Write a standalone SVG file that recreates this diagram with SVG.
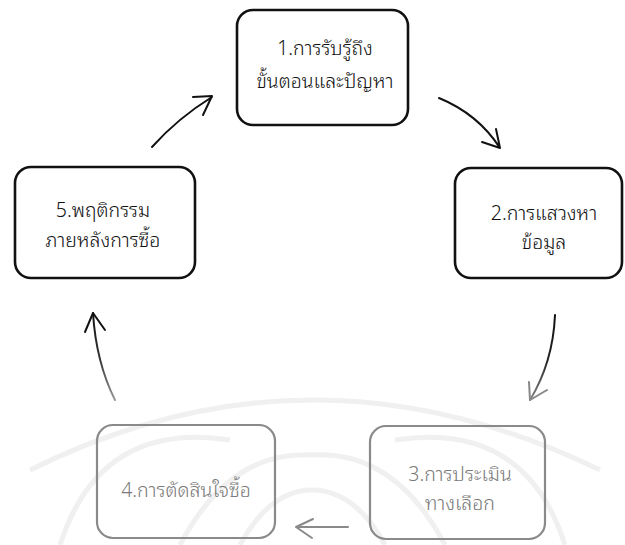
<svg xmlns="http://www.w3.org/2000/svg" width="625" height="545" viewBox="0 0 625 545">
<defs>
<style>
.box{fill:none;stroke:#111;stroke-width:2.6}
.gbox{fill:none;stroke:#8a8a8a;stroke-width:2.2}
.t{font-family:"Noto Sans Thai Looped","Noto Sans Thai","Noto Sans",sans-serif;font-size:19.5px;font-weight:350;fill:#111;text-anchor:middle}
.gt{font-family:"Noto Sans Thai Looped","Noto Sans Thai","Noto Sans",sans-serif;font-size:19.5px;font-weight:350;fill:#7a7a7a;text-anchor:middle}
.ar{fill:none;stroke:#111;stroke-width:2;stroke-linecap:round;stroke-linejoin:round}
.wm{fill:none;stroke:#f0f0f0;stroke-width:5}
</style>
<linearGradient id="g23" gradientUnits="userSpaceOnUse" x1="555" y1="315" x2="530" y2="400">
<stop offset="0" stop-color="#111"/><stop offset="0.5" stop-color="#222"/><stop offset="1" stop-color="#888"/>
</linearGradient>
<linearGradient id="g45" gradientUnits="userSpaceOnUse" x1="115" y1="400" x2="93" y2="313">
<stop offset="0" stop-color="#999"/><stop offset="0.5" stop-color="#333"/><stop offset="1" stop-color="#111"/>
</linearGradient>
</defs>
<rect width="625" height="545" fill="#fff"/>
<g id="watermark">
<path class="wm" d="M30,470 Q312,330 600,470"/>
<path class="wm" d="M60,545 Q100,420 230,440"/>
<path class="wm" d="M565,545 Q525,420 395,440"/>
<path class="wm" d="M180,545 Q230,450 312,455 Q395,450 445,545"/>
<path class="wm" d="M240,545 Q270,490 312,490 Q355,490 385,545"/>
</g>
<g id="connectors">
<path class="ar" d="M152,147 Q178,118 212,97 M193,97 L212,96 L203,115"/>
<path class="ar" d="M439,98 Q478,114 500,148 M482,142 L500,148 L496,129"/>
<path class="ar" style="stroke:url(#g23)" d="M555,315 Q553,362 530,400"/>
<path class="ar" style="stroke:#888" d="M529,382 L530,400 L547,390"/>
<path class="ar" style="stroke:#8a8a8a" d="M348,527 L296,527 M313,519 L296,527 L312,538"/>
<path class="ar" style="stroke:url(#g45)" d="M115,400 Q96,362 93,313"/>
<path class="ar" d="M85,332 L93,313 L105,330"/>
</g>
<g id="node1">
<rect class="box" x="237" y="10" width="171" height="115" rx="16"/>
<text class="t" x="325" y="55">1.การรับรู้ถึง</text>
<text class="t" x="325" y="88">ขั้นตอนและปัญหา</text>
</g>
<g id="node2">
<rect class="box" x="455" y="168" width="167" height="110" rx="16"/>
<text class="t" x="544" y="220">2.การแสวงหา</text>
<text class="t" x="544" y="249">ข้อมูล</text>
</g>
<g id="node3">
<rect class="gbox" x="370" y="426" width="175" height="113" rx="16"/>
<text class="gt" x="460" y="481">3.การประเมิน</text>
<text class="gt" x="460" y="510">ทางเลือก</text>
</g>
<g id="node4">
<rect class="gbox" x="97" y="425" width="178" height="113" rx="16"/>
<text class="gt" x="186" y="497">4.การตัดสินใจซื้อ</text>
</g>
<g id="node5">
<rect class="box" x="15" y="167" width="180" height="111" rx="16"/>
<text class="t" x="103" y="217">5.พฤติกรรม</text>
<text class="t" x="103" y="247">ภายหลังการซื้อ</text>
</g>
</svg>
